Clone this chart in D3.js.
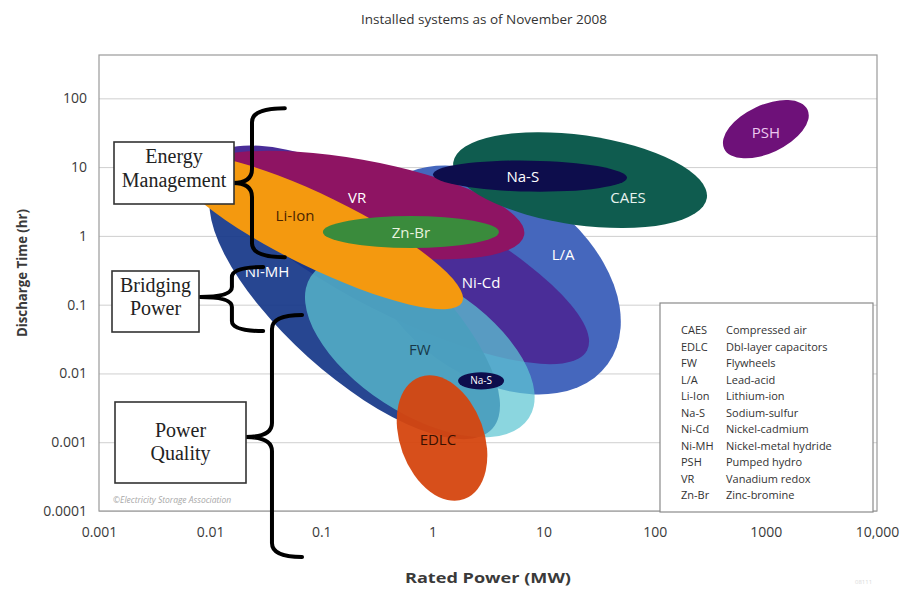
<!DOCTYPE html>
<html>
<head>
<meta charset="utf-8">
<script src="https://cdn.jsdelivr.net/npm/d3@7"></script>
<style>
  body { margin: 0; background: #fff; }
  svg { display: block; font-family: "Open Sans", "Noto Sans", sans-serif; }
</style>
</head>
<body>
<svg id="chart" width="903" height="592"></svg>
<script>
// ---- data (power in MW, discharge time in hours) ----
const techs     = ["L/A", "Ni-Cd", "Ni-MH", "FW", "VR", "Li-Ion", "Zn-Br", "CAES", "Na-S", "Na-S", "EDLC", "PSH"];
const centerMW  = [3.44, 0.51, 0.20, 0.77, 0.20, 0.094, 0.64, 21.3, 7.55, 2.74, 1.22, 1000];
const centerHr  = [0.228, 0.53, 0.099, 0.024, 2.8, 1.14, 1.14, 6.47, 7.4, 0.0078, 0.00115, 35.6];
// semi-axes in decades (long side measured on the power axis, short side on the time axis)
const spanMW    = [1.287, 1.89, 1.665, 1.17, 1.548, 1.44, 0.792, 1.152, 0.873, 0.207, 0.378, 0.414];
const spanHr    = [1.395, 0.872, 1.017, 0.959, 0.669, 0.523, 0.233, 0.654, 0.225, 0.124, 0.945, 0.349];
const tiltDeg   = [36, 27, 42, 33, 10, 26, 0, 8, 1, 0, -20, -25];
const labelMW   = [15, 2.74, 0.0325, 0.77, 0.21, 0.058, 0.64, 57.5, 6.5, 2.74, 1.12, 1000];
const labelHr   = [0.53, 0.206, 0.30, 0.022, 3.66, 2.0, 1.1, 3.66, 7.4, 0.0078, 0.00108, 32];

const legendAbbr = ["CAES", "EDLC", "FW", "L/A", "Li-Ion", "Na-S", "Ni-Cd", "Ni-MH", "PSH", "VR", "Zn-Br"];
const legendName = ["Compressed air", "Dbl-layer capacitors", "Flywheels", "Lead-acid", "Lithium-ion",
                    "Sodium-sulfur", "Nickel-cadmium", "Nickel-metal hydride", "Pumped hydro",
                    "Vanadium redox", "Zinc-bromine"];

const xTicks = [0.001, 0.01, 0.1, 1, 10, 100, 1000, 10000];
const xTickLabels = ["0.001", "0.01", "0.1", "1", "10", "100", "1000", "10,000"];
const yTicks = [0.0001, 0.001, 0.01, 0.1, 1, 10, 100];
const yTickLabels = ["0.0001", "0.001", "0.01", "0.1", "1", "10", "100"];

// application brackets: spine / hook / tip in MW, extent in hours
const bracketNames  = [["Energy", "Management"], ["Bridging", "Power"], ["Power", "Quality"]];
const bracketSpine  = [0.0238, 0.0157, 0.036];
const bracketHook   = [0.047, 0.030, 0.0671];
const bracketTipMW  = [0.0161, 0.0081, 0.021];
const bracketTopHr  = [72, 0.352, 0.0706];
const bracketBotHr  = [0.49, 0.0413, 0.0000214];
const bracketMidHr  = [5.85, 0.129, 0.00119];

// ---- styles ----
const fills = ["#4567bd", "#4a2d98", "#173889", "#5ec6d3", "#8e1463", "#f4990f", "#3a8b3c",
               "#0f5c4f", "#0d0d4c", "#0d0d4c", "#d5460f", "#6e1179"];
const opac  = [1, 1, 0.93, 0.72, 1, 1, 1, 1, 1, 1, 0.95, 1];
const labelFill = ["#fff", "#fff", "#fff", "#183848", "#fff", "#4a2400", "#e8f3df", "#e6f2ee",
                   "#fff", "#fff", "#3a1000", "#ecc8ef"];
const labelSize = [15, 15, 15, 15, 15, 15, 15, 15, 15, 10, 15, 15];
const boxes = [
  {x: 114, y: 142, w: 120, h: 62, lines: [163, 187]},
  {x: 112, y: 271, w: 87, h: 61, lines: [292, 315]},
  {x: 115, y: 402, w: 131, h: 81, lines: [437, 460]}
];

// ---- setup ----
const svg = d3.select("#chart");
const plot = {left: 99, right: 877, top: 55, bottom: 511};

const x = d3.scaleLog().domain([0.001, 10000]).range([plot.left, plot.right]);
const y = d3.scaleLog().domain([0.0001, Math.pow(10, 2.63)]).range([plot.bottom, plot.top]);

// title
svg.append("text")
  .attr("x", 484).attr("y", 24)
  .attr("text-anchor", "middle")
  .attr("font-size", 13.5)
  .attr("fill", "#333")
  .text("Installed systems as of November 2008");

// gridlines + y axis
const yAxisG = svg.append("g")
  .attr("transform", `translate(${plot.left},0)`)
  .call(d3.axisLeft(y)
    .tickValues(yTicks)
    .tickFormat((d, i) => yTickLabels[i])
    .tickSize(-(plot.right - plot.left))
    .tickPadding(12));
yAxisG.select(".domain").remove();
yAxisG.selectAll("line").attr("stroke", "#cfcfcf");
yAxisG.selectAll("text").attr("font-size", 14).attr("fill", "#3a3a3a")
  .attr("font-family", "'Open Sans', sans-serif");

// x axis
const xAxisG = svg.append("g")
  .attr("transform", `translate(0,${plot.bottom})`)
  .call(d3.axisBottom(x)
    .tickValues(xTicks)
    .tickFormat((d, i) => xTickLabels[i])
    .tickSize(0)
    .tickPadding(16));
xAxisG.select(".domain").remove();
xAxisG.selectAll("text").attr("font-size", 14).attr("fill", "#3a3a3a")
  .attr("font-family", "'Open Sans', sans-serif");

// frame
svg.append("rect")
  .attr("x", plot.left).attr("y", plot.top)
  .attr("width", plot.right - plot.left).attr("height", plot.bottom - plot.top)
  .attr("fill", "none").attr("stroke", "#9a9a9a").attr("stroke-width", 1.2);

// axis titles
svg.append("text")
  .attr("transform", "translate(27,273) rotate(-90)")
  .attr("text-anchor", "middle")
  .attr("font-size", 15).attr("font-weight", "bold").attr("fill", "#3a3a3a")
  .attr("textLength", 128).attr("lengthAdjust", "spacingAndGlyphs")
  .text("Discharge Time (hr)");

svg.append("text")
  .attr("x", 488).attr("y", 583)
  .attr("text-anchor", "middle")
  .attr("font-size", 15).attr("font-weight", "bold").attr("fill", "#3a3a3a")
  .attr("textLength", 166).attr("lengthAdjust", "spacingAndGlyphs")
  .text("Rated Power (MW)");

// copyright line
svg.append("text")
  .attr("x", 113).attr("y", 503)
  .attr("font-size", 8.5).attr("font-style", "italic").attr("fill", "#a8a8a8")
  .text("©Electricity Storage Association");

svg.append("text")
  .attr("x", 855).attr("y", 584)
  .attr("font-size", 6).attr("fill", "#dadada")
  .text("08111");

// ---- technology ellipses ----
const ell = techs.map((t, i) => {
  const cx = x(centerMW[i]), cy = y(centerHr[i]);
  return {
    name: t, i: i, cx: cx, cy: cy,
    rx: x(centerMW[i] * Math.pow(10, spanMW[i])) - cx,
    ry: cy - y(centerHr[i] * Math.pow(10, spanHr[i])),
    tilt: tiltDeg[i]
  };
});

// CAES outline as clip so Na-S reads darker where they overlap
const defs = svg.append("defs");
const caes = ell[7];
defs.append("clipPath").attr("id", "caesClip")
  .append("ellipse")
  .attr("transform", `translate(${caes.cx},${caes.cy}) rotate(${caes.tilt})`)
  .attr("rx", caes.rx).attr("ry", caes.ry);

const ellG = svg.append("g");
ellG.selectAll("ellipse.tech")
  .data(ell)
  .enter()
  .append("ellipse")
  .attr("class", "tech")
  .attr("transform", d => `translate(${d.cx},${d.cy}) rotate(${d.tilt})`)
  .attr("rx", d => d.rx)
  .attr("ry", d => d.ry)
  .attr("fill", d => fills[d.i])
  .attr("fill-opacity", d => opac[d.i]);

// big Na-S over CAES -> near black
const nas = ell[8];
ellG.append("ellipse")
  .attr("clip-path", "url(#caesClip)")
  .attr("transform", `translate(${nas.cx},${nas.cy}) rotate(${nas.tilt})`)
  .attr("rx", nas.rx).attr("ry", nas.ry)
  .attr("fill", "#05050f");

// labels
svg.append("g").selectAll("text")
  .data(ell)
  .enter()
  .append("text")
  .attr("x", d => x(labelMW[d.i]))
  .attr("y", d => y(labelHr[d.i]))
  .attr("dy", "0.36em")
  .attr("text-anchor", "middle")
  .attr("font-size", d => labelSize[d.i])
  .attr("fill", d => labelFill[d.i])
  .text(d => d.name);

// ---- legend ----
const leg = svg.append("g");
leg.append("rect")
  .attr("x", 660).attr("y", 303).attr("width", 213).attr("height", 209)
  .attr("fill", "#fff").attr("stroke", "#8a8a8a").attr("stroke-width", 1.2);
leg.selectAll("text.abbr")
  .data(legendAbbr)
  .enter()
  .append("text")
  .attr("class", "abbr")
  .attr("x", 681)
  .attr("y", (d, i) => 334 + i * 16.5)
  .attr("font-size", 11).attr("fill", "#333")
  .text(d => d);
leg.selectAll("text.name")
  .data(legendName)
  .enter()
  .append("text")
  .attr("class", "name")
  .attr("x", 726)
  .attr("y", (d, i) => 334 + i * 16.5)
  .attr("font-size", 11).attr("fill", "#333")
  .text(d => d);

// ---- application brackets ----
function bracePath(i) {
  const sx = x(bracketSpine[i]), hx = x(bracketHook[i]), tx = x(bracketTipMW[i]);
  const y0 = y(bracketTopHr[i]), y1 = y(bracketBotHr[i]), ym = y(bracketMidHr[i]);
  const r = Math.min(14, (ym - y0) / 3, (y1 - ym) / 3);
  const p = d3.path();
  p.moveTo(hx, y0);
  p.quadraticCurveTo(sx, y0, sx, y0 + r);
  p.lineTo(sx, ym - r);
  p.quadraticCurveTo(sx, ym, tx, ym);
  p.quadraticCurveTo(sx, ym, sx, ym + r);
  p.lineTo(sx, y1 - r);
  p.quadraticCurveTo(sx, y1, hx, y1);
  return p.toString();
}

const brG = svg.append("g");
bracketNames.forEach((lines, i) => {
  brG.append("path")
    .attr("d", bracePath(i))
    .attr("fill", "none")
    .attr("stroke", "#000")
    .attr("stroke-width", 4)
    .attr("stroke-linecap", "round")
    .attr("stroke-linejoin", "round");

  const b = boxes[i];
  brG.append("rect")
    .attr("x", b.x).attr("y", b.y).attr("width", b.w).attr("height", b.h)
    .attr("fill", "#fff").attr("stroke", "#333").attr("stroke-width", 1.6);
  lines.forEach((ln, j) => {
    brG.append("text")
      .attr("x", b.x + b.w / 2)
      .attr("y", b.lines[j])
      .attr("text-anchor", "middle")
      .attr("font-family", "'Liberation Serif', 'Times New Roman', serif")
      .attr("font-size", 20)
      .attr("fill", "#222")
      .text(ln);
  });
});
</script>
</body>
</html>
